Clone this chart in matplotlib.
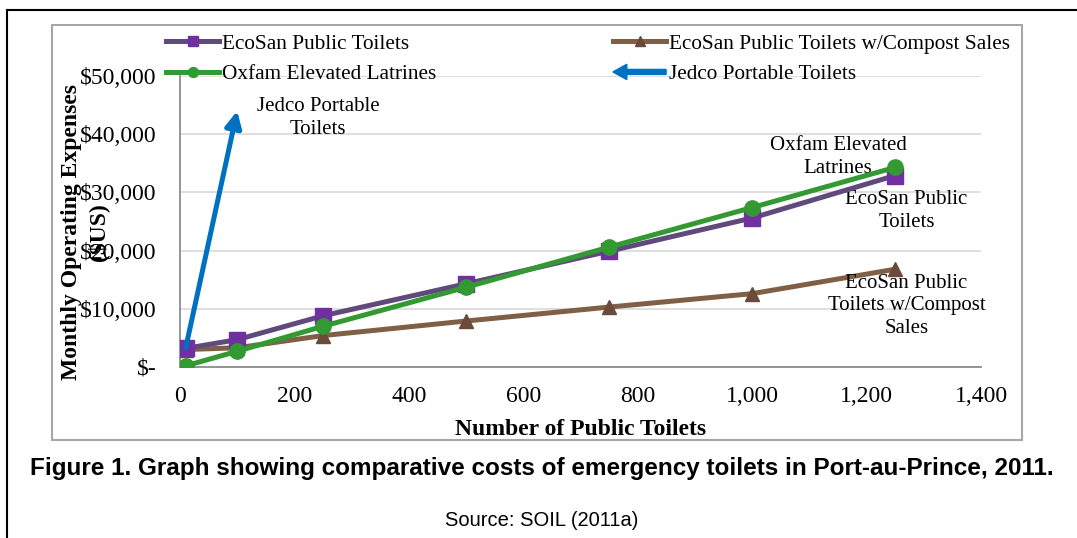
import matplotlib.pyplot as plt
import matplotlib.patches as mpatches
from matplotlib.legend_handler import HandlerPatch
from matplotlib.ticker import FuncFormatter

# ---- data ----
toilets = [10, 100, 250, 500, 750, 1000, 1250]
ecosan = [3200, 4700, 8800, 14300, 19900, 25600, 32900]
ecosan_compost = [3000, 3300, 5400, 7900, 10300, 12600, 16800]
oxfam = [200, 2700, 7000, 13700, 20600, 27400, 34300]
jedco_x = [10, 100]
jedco_y = [3300, 44000]

c_ecosan, c_ecosan_m = '#604a7b', '#7030a0'
c_compost, c_compost_m = '#7f6046', '#6b4a3a'
c_oxfam = '#339933'
c_jedco = '#0070c0'

plt.rcParams['font.family'] = ['Liberation Serif', 'DejaVu Serif']

fig = plt.figure(figsize=(10.77, 5.38), dpi=100)
ax = fig.add_axes([180/1077, 1-367/538, (981-180)/1077, (367-76)/538])

ax.plot(toilets, ecosan_compost, color=c_compost, lw=3.6, marker='^', ms=10,
        mfc=c_compost_m, mec=c_compost_m, label='EcoSan Public Toilets w/Compost Sales', zorder=3)
ax.plot(toilets, ecosan, color=c_ecosan, lw=3.6, marker='s', ms=12,
        mfc=c_ecosan_m, mec=c_ecosan_m, label='EcoSan Public Toilets', zorder=4)
ax.plot(toilets, oxfam, color=c_oxfam, lw=3.6, marker='o', ms=11,
        mfc=c_oxfam, mec=c_oxfam, label='Oxfam Elevated Latrines', zorder=5)
ax.annotate('', xy=(jedco_x[1], jedco_y[1]), xytext=(jedco_x[0], jedco_y[0]),
            arrowprops=dict(arrowstyle='-|>', color=c_jedco, lw=3.6,
                            mutation_scale=24, shrinkA=0, shrinkB=0), zorder=6)

ax.set_xlim(0, 1400)
ax.set_ylim(0, 50000)
ax.set_xticks(range(0, 1401, 200))
ax.set_yticks(range(0, 50001, 10000))
ax.xaxis.set_major_formatter(FuncFormatter(lambda v, p: f'{int(v):,}'))
ax.yaxis.set_major_formatter(FuncFormatter(lambda v, p: '$-' if v == 0 else f'${int(v):,}'))
ax.tick_params(length=0, labelsize=17)
ax.tick_params(axis='y', pad=17)
ax.tick_params(axis='x', pad=14)
ax.grid(axis='y', color='#d9d9d9', lw=1.2)
ax.set_axisbelow(True)
for s in ['top', 'right']:
    ax.spines[s].set_visible(False)
for s in ['left', 'bottom']:
    ax.spines[s].set_color('#8c8c8c')
    ax.spines[s].set_linewidth(1.3)

ax.set_xlabel('Number of Public Toilets', fontsize=17, fontweight='bold', labelpad=8)
fig.text(85/1077, 1-232/538, 'Monthly Operating Expenses\n($US)', rotation=90,
         ha='center', va='center', multialignment='center', fontsize=17,
         fontweight='bold', linespacing=1.25)

# data labels
lbl = dict(fontsize=15, ha='center', va='center', linespacing=1.25)
ax.text(241, 42800, 'Jedco Portable\nToilets', **lbl)
ax.text(1150, 36100, 'Oxfam Elevated\nLatrines', **lbl)
ax.text(1270, 26800, 'EcoSan Public\nToilets', **lbl)
ax.text(1270, 10500, 'EcoSan Public\nToilets w/Compost\nSales', **lbl)

# legend
def make_arrow(legend, orig_handle, xdescent, ydescent, width, height, fontsize):
    return mpatches.FancyArrow(width, 0.5*height, -width, 0, width=3.6, head_width=11,
                               head_length=10, length_includes_head=True, color=c_jedco)

jedco_proxy = mpatches.Patch(color=c_jedco, label='Jedco Portable Toilets')
h, l = ax.get_legend_handles_labels()
handles = [h[1], h[2], h[0], jedco_proxy]
fig.legend(handles=handles, loc='upper left', bbox_to_anchor=(166/1077, 1-34/538),
           ncol=2, frameon=False, fontsize=15.3, handlelength=2.5, handletextpad=0.15,
           columnspacing=8.3, labelspacing=0.5, borderpad=0, borderaxespad=0,
           markerscale=0.65,
           handler_map={jedco_proxy: HandlerPatch(patch_func=make_arrow)})

# chart box and outer frame
fig.patches.append(mpatches.Rectangle((52/1077, 1-440/538), (1022-52)/1077, (440-25)/538,
                                      transform=fig.transFigure, fill=False,
                                      edgecolor='#a6a6a6', lw=1.5))
fig.add_artist(plt.Line2D([7/1077, 7/1077], [0, 1-10/538], transform=fig.transFigure,
                          color='black', lw=1.5))
fig.add_artist(plt.Line2D([7/1077, 1], [1-10/538, 1-10/538], transform=fig.transFigure,
                          color='black', lw=1.5))

# caption
fig.text(542/1077, 1-468/538,
         'Figure 1. Graph showing comparative costs of emergency toilets in Port-au-Prince, 2011.',
         ha='center', va='center', fontsize=17.5, fontweight='bold', family='Liberation Sans')
fig.text(542/1077, 1-520/538, 'Source: SOIL (2011a)', ha='center', va='center',
         fontsize=14.5, family='Liberation Sans')

fig.savefig('out.png', dpi=100)
